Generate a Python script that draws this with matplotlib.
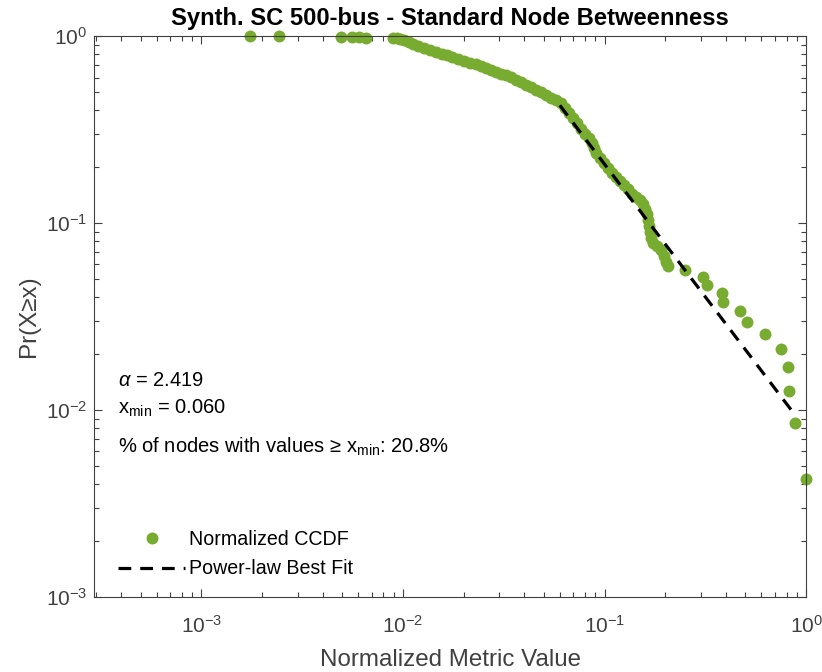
import matplotlib
matplotlib.use('Agg')
import matplotlib.pyplot as plt
import numpy as np

plt.rcParams['font.family'] = ['Liberation Sans', 'DejaVu Sans']
plt.rcParams['mathtext.fontset'] = 'custom'
plt.rcParams['mathtext.rm'] = 'Liberation Sans'
plt.rcParams['mathtext.it'] = 'Liberation Sans:italic'
plt.rcParams['mathtext.default'] = 'regular'
plt.rcParams['axes.unicode_minus'] = False

# normalized CCDF points
ccdf_x = [0.00174, 0.00243, 0.00492, 0.00558, 0.00605, 0.00655,
          0.00892, 0.00934, 0.00966, 0.01012, 0.01071, 0.01121, 0.01187,
          0.01271, 0.01361, 0.01458, 0.01561, 0.01654, 0.01750, 0.01875,
          0.02008, 0.02150, 0.02303, 0.02438, 0.02581, 0.02734, 0.02894,
          0.03064, 0.03244, 0.03436, 0.03637, 0.03851, 0.04077, 0.04317,
          0.04571, 0.04840, 0.05125, 0.05426, 0.05744, 0.06082, 0.06368,
          0.06665, 0.06978, 0.07304, 0.07646, 0.08003, 0.08378, 0.08670,
          0.08870, 0.09075, 0.09500, 0.09943, 0.1041, 0.1089, 0.1141,
          0.1194, 0.1250, 0.1308, 0.1369, 0.1433, 0.1500, 0.1553, 0.1589,
          0.1625, 0.1644, 0.1663, 0.1682, 0.1702, 0.1741, 0.1822, 0.1907,
          0.1973, 0.2019, 0.2066,
          0.2509, 0.3082, 0.3227, 0.3829, 0.3873, 0.4705, 0.5096, 0.6259,
          0.7513, 0.8141, 0.8233, 0.8820, 1.0]
ccdf_y = [1.0, 0.996, 0.991, 0.987, 0.983, 0.979,
          0.975, 0.970, 0.962, 0.952, 0.929, 0.906, 0.884,
          0.863, 0.842, 0.821, 0.801, 0.791, 0.772, 0.753,
          0.735, 0.717, 0.708, 0.691, 0.674, 0.658, 0.642,
          0.626, 0.619, 0.604, 0.582, 0.568, 0.547, 0.534,
          0.514, 0.502, 0.484, 0.466, 0.455, 0.438, 0.412,
          0.388, 0.364, 0.342, 0.318, 0.299, 0.285, 0.268,
          0.252, 0.237, 0.223, 0.209, 0.197, 0.185, 0.176,
          0.168, 0.160, 0.152, 0.143, 0.138, 0.133, 0.126, 0.119,
          0.112, 0.104, 0.0964, 0.0895, 0.0832, 0.0782, 0.0753, 0.0717,
          0.0666, 0.0619, 0.0589,
          0.0561, 0.0514, 0.0466, 0.0422, 0.0378, 0.0338, 0.0296, 0.0255,
          0.0212, 0.0170, 0.0126, 0.00852, 0.00428]

# power-law fit end points
fit_x = [0.06, 0.882]
fit_y = [0.426, 0.0094]

alpha = 2.419
xmin = 0.060
pct_tail = 20.8

green = '#77AC30'
axcol = '#404040'

fig = plt.figure(figsize=(8.22, 6.72), dpi=100)
ax = fig.add_axes([0.1144, 0.1116, 0.8662, 0.8348])

ax.loglog(ccdf_x, ccdf_y, 'o', color=green, markersize=8.6,
          markeredgewidth=0, label='Normalized CCDF', clip_on=False)
ax.loglog(fit_x, fit_y, '--', color='k', lw=2.3, dashes=(4, 2.8),
          label='Power-law Best Fit')

ax.set_xlim(2.93e-4, 1)
ax.set_ylim(1e-3, 1)

ax.tick_params(which='both', direction='in', top=True, right=True,
               colors=axcol, labelsize=15, width=0.8)
ax.tick_params(which='major', length=6)
ax.tick_params(which='minor', length=3.6)
ax.tick_params(axis='x', pad=13)
ax.tick_params(axis='y', pad=5)
for s in ax.spines.values():
    s.set_color(axcol)
    s.set_linewidth(0.8)

ax.set_title('Synth. SC 500-bus - Standard Node Betweenness',
             fontsize=17.1, fontweight='bold', pad=8)
ax.set_xlabel('Normalized Metric Value', fontsize=17.4, color=axcol,
              labelpad=9)
ax.set_ylabel('Pr(X\u2265x)', fontsize=17.4, color=axcol, labelpad=4)

ax.text(0.034, 0.386, r'$\mathit{\alpha}$ = %.3f' % alpha,
        transform=ax.transAxes, fontsize=14.5, va='center')
ax.text(0.034, 0.337, r'x$_{\mathrm{min}}$ = %.3f' % xmin,
        transform=ax.transAxes, fontsize=14.5, va='center')
ax.text(0.034, 0.268, '% of nodes with values \u2265 x$_{\\mathrm{min}}$: '
        + '%.1f%%' % pct_tail,
        transform=ax.transAxes, fontsize=14.5, va='center')

ax.legend(loc='lower left', bbox_to_anchor=(0.034, 0.033), frameon=False,
          fontsize=14.1, handlelength=3.4, handletextpad=0.2,
          borderpad=0, borderaxespad=0, labelspacing=0.55, numpoints=1)

fig.savefig('out.png', dpi=100)
